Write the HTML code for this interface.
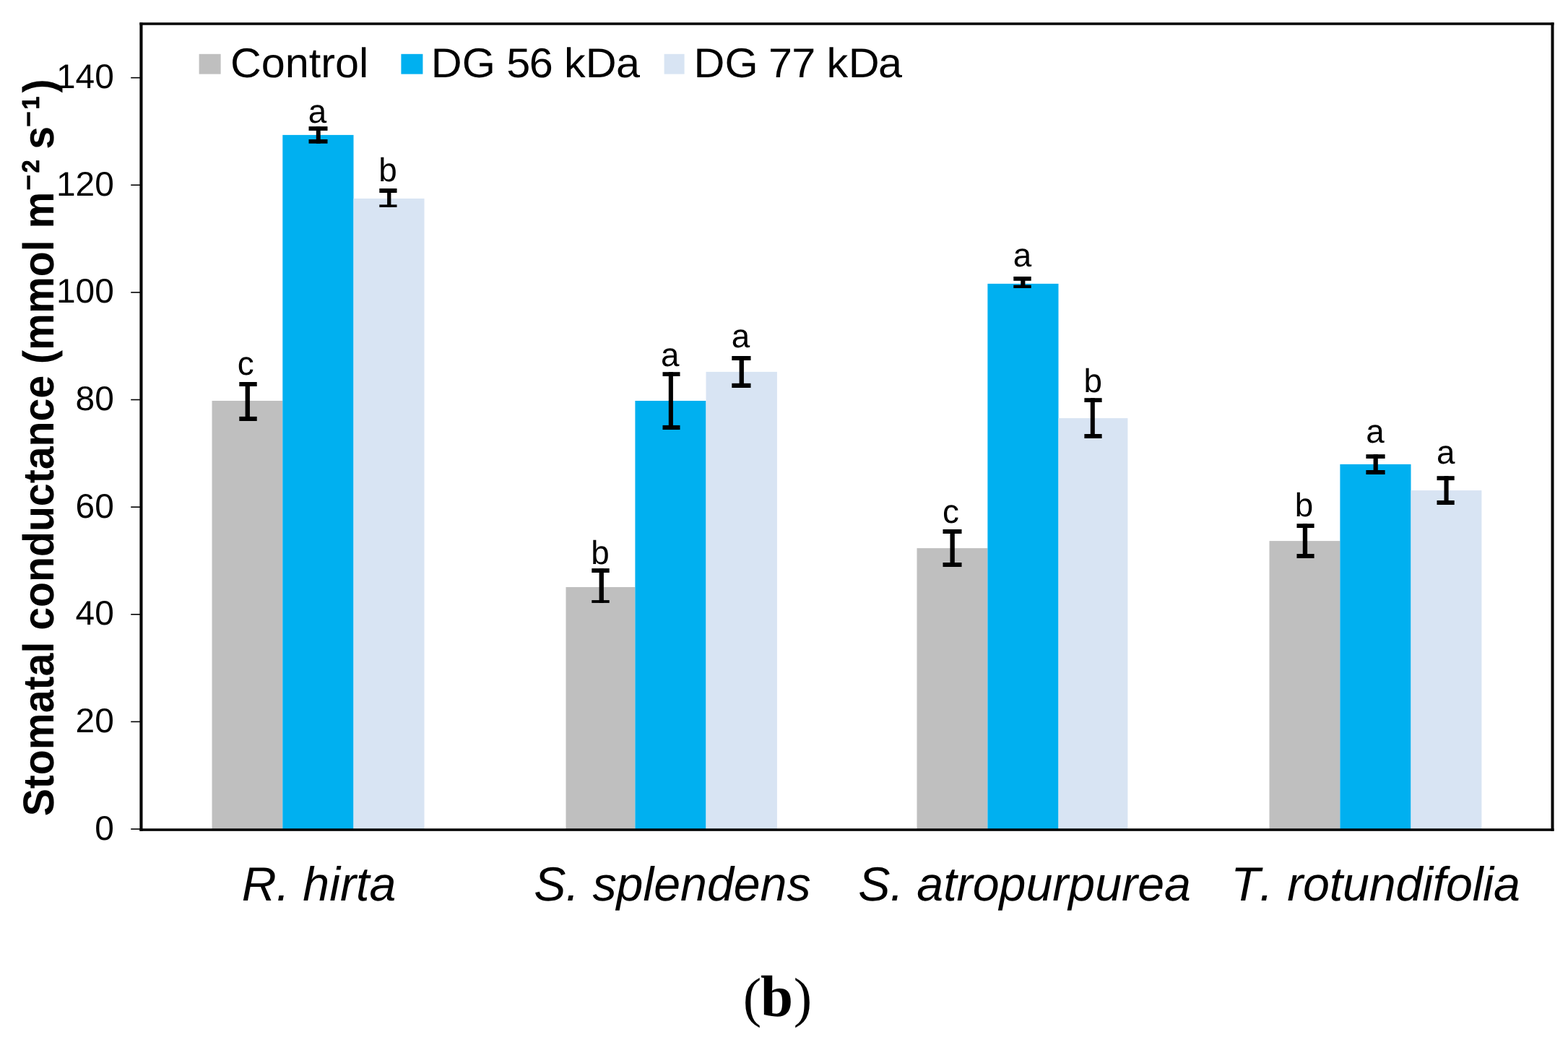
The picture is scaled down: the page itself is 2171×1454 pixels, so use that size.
<!DOCTYPE html>
<html lang="en"><head><meta charset="utf-8"><title>Stomatal conductance chart (b)</title>
<style>
html,body{margin:0;padding:0;background:#fff;}
body{width:2171px;height:1454px;overflow:hidden;}
svg{display:block;}
text{font-family:"Liberation Sans",Arial,Helvetica,sans-serif;font-kerning:none;text-rendering:geometricPrecision;fill:#000;}
.tick text{font-size:47.4px;text-anchor:end;}
.leg{font-size:57.6px;}
.cat{font-size:66.3px;font-style:italic;}
.sig{font-size:45.8px;}
.yt{font-size:60px;font-weight:bold;}
.sup{font-size:33.5px;stroke:#000;stroke-width:0.8px;}
.mn{font-size:40.4px;}
.cap{font-family:"Liberation Serif","Times New Roman",serif;font-size:81px;}
.capb{font-weight:bold;}
.par{font-size:76.4px;font-weight:normal;}
</style></head><body>
<svg width="2171" height="1454" viewBox="0 0 2171 1454">
<rect x="0" y="0" width="2171" height="1454" fill="#fff"/>
<g>
<rect x="293.5" y="555" width="97.8" height="593.5" fill="#BFBFBF"/>
<rect x="391.3" y="186.9" width="98.2" height="961.6" fill="#00B0F0"/>
<rect x="489.5" y="274.9" width="98" height="873.6" fill="#D8E4F3"/>
<rect x="783.5" y="813" width="95.9" height="335.5" fill="#BFBFBF"/>
<rect x="879.4" y="555" width="98.1" height="593.5" fill="#00B0F0"/>
<rect x="977.5" y="514.9" width="98.4" height="633.6" fill="#D8E4F3"/>
<rect x="1269.5" y="759.1" width="97.9" height="389.4" fill="#BFBFBF"/>
<rect x="1367.4" y="392.9" width="98.1" height="755.6" fill="#00B0F0"/>
<rect x="1465.5" y="579.1" width="95.9" height="569.4" fill="#D8E4F3"/>
<rect x="1757.5" y="749.1" width="97.9" height="399.4" fill="#BFBFBF"/>
<rect x="1855.4" y="642.9" width="98.1" height="505.6" fill="#00B0F0"/>
<rect x="1953.5" y="679.1" width="97.9" height="469.4" fill="#D8E4F3"/>
</g>
<g fill="#000">
<rect x="193.4" y="31.2" width="4.1" height="1119.6"/>
<rect x="2147.5" y="31.2" width="4" height="1119.6"/>
<rect x="193.4" y="31.2" width="1958.1" height="3.5"/>
<rect x="193.4" y="1147.3" width="1958.1" height="3.5"/>
<rect x="181.2" y="1147.25" width="13" height="1.6"/>
<rect x="181.2" y="998.62" width="13" height="1.6"/>
<rect x="181.2" y="849.99" width="13" height="1.6"/>
<rect x="181.2" y="701.36" width="13" height="1.6"/>
<rect x="181.2" y="552.73" width="13" height="1.6"/>
<rect x="181.2" y="404.1" width="13" height="1.6"/>
<rect x="181.2" y="255.47" width="13" height="1.6"/>
<rect x="181.2" y="106.84" width="13" height="1.6"/>
</g>
<g class="tick">
<text transform="translate(157.8 1162.55) scale(1.01 1)">0</text>
<text transform="translate(157.8 1013.92) scale(1.01 1)">20</text>
<text transform="translate(157.8 865.29) scale(1.01 1)">40</text>
<text transform="translate(157.8 716.66) scale(1.01 1)">60</text>
<text transform="translate(157.8 568.03) scale(1.01 1)">80</text>
<text transform="translate(157.8 419.4) scale(1.01 1)">100</text>
<text transform="translate(157.8 270.77) scale(1.01 1)">120</text>
<text transform="translate(157.8 122.14) scale(1.01 1)">140</text>
</g>
<g fill="#000">
<rect x="331.3" y="529" width="24.4" height="6"/>
<rect x="331.3" y="576.9" width="24.4" height="6.1"/>
<rect x="339.6" y="529" width="6.3" height="54"/>
<rect x="427.5" y="175.1" width="26" height="5.8"/>
<rect x="427.5" y="193" width="26" height="5.7"/>
<rect x="437.8" y="175.1" width="5.9" height="23.6"/>
<rect x="525.3" y="261" width="24.2" height="6"/>
<rect x="525.3" y="283.4" width="24.2" height="3.5"/>
<rect x="536.1" y="261" width="5.3" height="25.9"/>
<rect x="819.3" y="787.1" width="24.4" height="5.9"/>
<rect x="819.3" y="831.1" width="24.4" height="3.8"/>
<rect x="829.6" y="787.1" width="6.3" height="47.8"/>
<rect x="917.5" y="515.2" width="24" height="5.8"/>
<rect x="917.5" y="588.9" width="24" height="6.1"/>
<rect x="925.8" y="515.2" width="6.1" height="79.8"/>
<rect x="1013.3" y="493" width="26.2" height="6"/>
<rect x="1013.3" y="530.8" width="26.2" height="6.2"/>
<rect x="1023.6" y="493" width="6.3" height="44"/>
<rect x="1305.5" y="733" width="26" height="6"/>
<rect x="1305.5" y="779" width="26" height="6"/>
<rect x="1315.5" y="733" width="6.3" height="52"/>
<rect x="1403.3" y="383" width="24.4" height="5.8"/>
<rect x="1403.3" y="394.7" width="24.4" height="4.3"/>
<rect x="1413.3" y="383" width="6.1" height="16"/>
<rect x="1501.4" y="551.2" width="24.2" height="5.8"/>
<rect x="1501.4" y="601" width="24.2" height="6"/>
<rect x="1509.8" y="551.2" width="6" height="55.8"/>
<rect x="1795.5" y="725.2" width="24.1" height="5.8"/>
<rect x="1795.5" y="767" width="24.1" height="6"/>
<rect x="1803.8" y="725.2" width="6.3" height="47.8"/>
<rect x="1891.4" y="629.2" width="26.2" height="5.8"/>
<rect x="1891.4" y="651" width="26.2" height="6"/>
<rect x="1901.6" y="629.2" width="6.2" height="27.8"/>
<rect x="1989.5" y="659.2" width="24.2" height="5.9"/>
<rect x="1989.5" y="693" width="24.2" height="6"/>
<rect x="1999.5" y="659.2" width="6.1" height="39.8"/>
</g>
<g class="sig">
<text x="328.85" y="518.55">c</text>
<text x="426.85" y="170.25">a</text>
<text x="524.15" y="251.05">b</text>
<text x="818.15" y="780.65">b</text>
<text x="915.05" y="506.75">a</text>
<text x="1012.85" y="480.55">a</text>
<text x="1305.05" y="724.35">c</text>
<text x="1402.85" y="368.55">a</text>
<text x="1500.55" y="542.75">b</text>
<text x="1792.65" y="714.75">b</text>
<text x="1891.15" y="612.75">a</text>
<text x="1989.05" y="642.25">a</text>
</g>
<g>
<rect x="275.6" y="74.8" width="30" height="27.8" fill="#BFBFBF"/>
<rect x="555.4" y="74.8" width="30" height="27.8" fill="#00B0F0"/>
<rect x="919.6" y="74.8" width="28" height="27.8" fill="#D8E4F3"/>
<text class="leg" transform="translate(318.89 106.7) scale(1.03 1)">Control</text>
<text class="leg" transform="translate(596.83 106.7) scale(1.03 1)" dx="0 0.13 0 -1.28 -1.39 0 -1.23 0.16 -0.48">DG 56 kDa</text>
<text class="leg" transform="translate(960.53 106.7) scale(1.03 1)" dx="0 0.04 0 -1.93 -0.87 0 -1.1 0.55 -1.55">DG 77 kDa</text>
</g>
<g class="cat">
<text class="cat" x="334.65" y="1246.9">R. hirta</text>
<text class="cat" x="739.34" y="1246.9">S. splendens</text>
<text class="cat" x="1188.25" y="1246.9">S. atropurpurea</text>
<text class="cat" x="1704.3" y="1246.9" dx="0 -0.7 0 1.2 -0.16 -0.16 -0.16 -0.16 -0.16 -0.16 -0.16 -0.16 -0.16 -0.16 -0.16">T. rotundifolia</text>
</g>
<text class="yt" transform="translate(73.5 1130.35) rotate(-90) scale(0.9537 1)">Stomatal conductance (mmol m<tspan class="mn" x="908.3" y="-20.5">−</tspan><tspan class="sup" x="934.3" y="-19.9">2</tspan><tspan x="951.81" y="0"> s</tspan><tspan class="mn" x="1000.47" y="-20.5">−</tspan><tspan class="sup" x="1026.25" y="-19.9">1</tspan><tspan x="1050.53" y="0">)</tspan></text>
<text class="cap" y="1406.7"><tspan class="par" x="1028.7" y="1406.6">(</tspan><tspan class="capb" x="1053" y="1407.3">b</tspan><tspan class="par" x="1098.7" y="1406.6">)</tspan></text>
</svg>
</body></html>
